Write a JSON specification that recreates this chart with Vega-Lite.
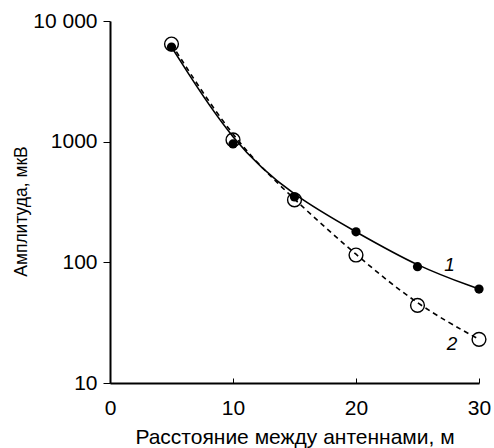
{
  "$schema": "https://vega.github.io/schema/vega-lite/v6.json",
  "autosize": "none",
  "width": 369,
  "height": 362,
  "padding": {"left": 110, "top": 21, "right": 15, "bottom": 65},
  "background": "white",
  "config": {
    "view": {"stroke": null},
    "font": "Liberation Sans",
    "axis": {"grid": false, "domainColor": "black", "domainWidth": 2, "tickColor": "black", "labelColor": "black", "titleColor": "black", "labelFont": "Liberation Sans", "titleFont": "Liberation Sans", "titleFontWeight": "normal", "labelFontSize": 21, "titleFontSize": 20}
  },
  "datasets": {
    "pts": [
      {"x": 5, "y": 6090, "s": "1"},
      {"x": 10, "y": 957, "s": "1"},
      {"x": 15, "y": 348, "s": "1"},
      {"x": 20, "y": 179, "s": "1"},
      {"x": 25, "y": 92, "s": "1"},
      {"x": 30, "y": 60, "s": "1"},
      {"x": 5, "y": 6440, "s": "2"},
      {"x": 10, "y": 1033, "s": "2"},
      {"x": 15, "y": 329, "s": "2"},
      {"x": 20, "y": 115, "s": "2"},
      {"x": 25, "y": 44, "s": "2"},
      {"x": 30, "y": 23, "s": "2"}
    ],
    "labels": [
      {"x": 27.6, "y": 95, "t": "1"},
      {"x": 27.8, "y": 21, "t": "2"}
    ]
  },
  "layer": [
    {
      "data": {"name": "pts"},
      "transform": [{"filter": "datum.s == '1'"}],
      "mark": {"type": "line", "interpolate": "basis", "color": "black", "strokeWidth": 1.6},
      "encoding": {
        "x": {"field": "x", "type": "quantitative", "scale": {"domain": [0, 30], "nice": false},
          "axis": {"values": [0, 10, 20, 30], "labelFlush": false, "tickSize": -5, "tickWidth": 1, "labelPadding": 19, "title": "Расстояние между антеннами, м", "titleFontSize": 21, "titleY": 60, "titleBaseline": "alphabetic"}},
        "y": {"field": "y", "type": "quantitative", "scale": {"type": "log", "domain": [10, 10000], "nice": false},
          "axis": {"values": [10, 100, 1000, 10000], "labelFlush": false, "tickSize": 7, "tickWidth": 1, "labelPadding": 6, "labelExpr": "datum.value == 10000 ? '10 000' : datum.value == 1000 ? '1000' : datum.value == 100 ? '100' : '10'", "title": "Амплитуда, мкВ", "titleFontSize": 17.5, "titleX": -89, "titleY": 190, "titleAngle": -90, "titleAlign": "center", "titleBaseline": "middle"}}
      }
    },
    {
      "data": {"name": "pts"},
      "transform": [{"filter": "datum.s == '2'"}],
      "mark": {"type": "line", "interpolate": "basis", "color": "black", "strokeWidth": 1.6, "strokeDash": [5, 4]},
      "encoding": {
        "x": {"field": "x", "type": "quantitative"},
        "y": {"field": "y", "type": "quantitative"}
      }
    },
    {
      "data": {"name": "pts"},
      "transform": [{"filter": "datum.s == '1'"}],
      "mark": {"type": "point", "filled": true, "color": "black", "size": 85, "opacity": 1},
      "encoding": {
        "x": {"field": "x", "type": "quantitative"},
        "y": {"field": "y", "type": "quantitative"}
      }
    },
    {
      "data": {"name": "pts"},
      "transform": [{"filter": "datum.s == '2'"}],
      "mark": {"type": "point", "filled": false, "color": "black", "size": 190, "strokeWidth": 1.4, "opacity": 1},
      "encoding": {
        "x": {"field": "x", "type": "quantitative"},
        "y": {"field": "y", "type": "quantitative"}
      }
    },
    {
      "data": {"name": "labels"},
      "mark": {"type": "text", "fontStyle": "italic", "fontSize": 19, "color": "black", "font": "Liberation Sans"},
      "encoding": {
        "x": {"field": "x", "type": "quantitative"},
        "y": {"field": "y", "type": "quantitative"},
        "text": {"field": "t"}
      }
    }
  ]
}
